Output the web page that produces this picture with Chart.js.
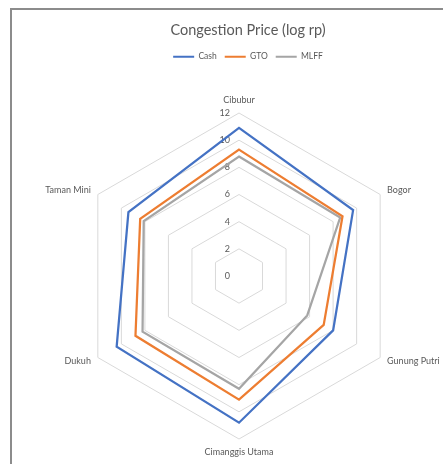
<!DOCTYPE html>
<html><head><meta charset="utf-8">
<script src="https://cdn.jsdelivr.net/npm/chart.js@4/dist/chart.umd.min.js"></script>
<style>
html,body{margin:0;padding:0;background:#fff;overflow:hidden;width:443px;height:464px;}
#frame{position:absolute;left:10px;top:8px;width:520px;height:520px;border:2px solid #8c8c8c;box-sizing:border-box;}
canvas{position:absolute;left:0;top:0;}
</style></head><body>
<div id="frame"></div>
<canvas id="c" width="485" height="464"></canvas>
<script>
const categories = ['Cibubur', 'Bogor', 'Gunung Putri', 'Cimanggis Utama', 'Dukuh', 'Taman Mini'];
const cash = [10.9, 9.7, 8.0, 10.8, 10.4, 9.4];
const gto  = [9.3, 8.8, 7.2, 9.1, 8.8, 8.4];
const mlff = [8.8, 8.6, 5.8, 8.3, 8.2, 8.1];
const tickValues = [0, 2, 4, 6, 8, 10, 12];
const seriesNames = ['Cash', 'GTO', 'MLFF'];
const seriesColors = ['#4472C4', '#ED7D31', '#A5A5A5'];

const FONT = 'Lato';
const TXT = '#595959';
const plot = {cx: 239, cy: 276, r: 163};

function placeScale(scale) {
  const dx = plot.cx - scale.xCenter, dy = plot.cy - scale.yCenter, dr = plot.r - scale.drawingArea;
  scale.xCenter = plot.cx; scale.yCenter = plot.cy; scale.drawingArea = plot.r;
  (scale._pointLabelItems || []).forEach((it, i) => {
    const a = scale.getIndexAngle(i) - Math.PI / 2;
    let ox = dx + dr * Math.cos(a), oy = dy + dr * Math.sin(a);
    const h = it.bottom - it.top;
    if (it.textAlign !== 'center') {
      if (Math.sin(a) < 0) oy += h / 2; else oy -= h / 2;
    }
    it.x += ox; it.left += ox; it.right += ox;
    it.y += oy; it.top += oy; it.bottom += oy;
  });
}

const tickLabels = {
  id: 'tickLabels',
  beforeDatasetsDraw(chart) {
    const s = chart.scales.r, ctx = chart.ctx;
    ctx.save();
    ctx.font = '9px ' + FONT;
    ctx.fillStyle = TXT;
    ctx.textAlign = 'right';
    ctx.textBaseline = 'middle';
    tickValues.forEach(v => {
      const d = s.getDistanceFromCenterForValue(v);
      ctx.fillText(String(v), s.xCenter - 9, s.yCenter - d);
    });
    ctx.restore();
  }
};

const values = [cash, gto, mlff];
new Chart(document.getElementById('c'), {
  type: 'radar',
  data: {
    labels: categories,
    datasets: seriesNames.map((n, i) => ({
      label: n, data: values[i], borderColor: seriesColors[i], backgroundColor: 'transparent',
      borderWidth: 2.25, fill: false, pointRadius: 0, tension: 0
    }))
  },
  options: {
    responsive: false, animation: false,
    layout: {padding: {left: 11, top: 9, right: 0, bottom: 0}},
    plugins: {
      title: {display: true, text: 'Congestion Price (log rp)', color: TXT,
        font: {family: FONT, size: 14.5, weight: 'normal'}, padding: {top: 13, bottom: 5}},
      legend: {position: 'top', labels: {
        boxWidth: 21, boxHeight: 2, color: TXT, padding: 8,
        font: {family: FONT, size: 8.5},
        generateLabels(chart) {
          return chart.data.datasets.map((d, i) => ({
            text: d.label, fillStyle: d.borderColor, strokeStyle: d.borderColor,
            lineWidth: 0, hidden: false, datasetIndex: i, fontColor: TXT
          }));
        }
      }},
      tooltip: {enabled: false}
    },
    scales: {
      r: {
        min: tickValues[0], max: tickValues[tickValues.length - 1],
        ticks: {stepSize: 2, display: false},
        grid: {color: '#d9d9d9', lineWidth: 1},
        angleLines: {display: false},
        pointLabels: {color: TXT, font: {family: FONT, size: 9}, padding: 8},
        afterFit: placeScale
      }
    }
  },
  plugins: [tickLabels]
});
</script>
</body></html>
